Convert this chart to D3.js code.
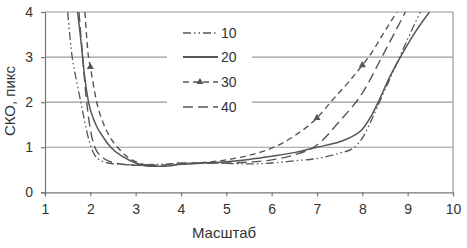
<!DOCTYPE html>
<html><head><meta charset="utf-8">
<script src="https://cdn.jsdelivr.net/npm/d3@7"></script>
<style>body{margin:0;background:#fff}svg{display:block}text{font-family:"Liberation Sans",Arial,sans-serif}</style>
</head><body><svg id="c" width="467" height="248"></svg>
<script>
const xTicks=[1,2,3,4,5,6,7,8,9,10];
const yTicks=[0,1,2,3,4];
const seriesNames=["10","20","30","40"];
const x10=[1.5,1.6,1.7,1.8,1.9,2.0,2.1,2.2,2.4,2.7,3,3.5,4,4.5,5,5.5,6,6.5,7,7.5,7.8,8.0,8.2,8.4,8.6,8.8,9.0,9.28];
const y10=[4.0,3.0,2.45,1.95,1.45,1.05,0.82,0.72,0.65,0.62,0.61,0.62,0.64,0.65,0.64,0.63,0.65,0.7,0.75,0.87,0.98,1.2,1.6,2.05,2.5,2.95,3.4,4.0];
const x20=[1.72,1.8,1.87,1.96,2.1,2.3,2.45,2.7,3.0,3.3,3.6,4,4.5,5,5.5,6,6.5,7,7.5,7.8,8.0,8.2,8.35,8.6,8.84,9.1,9.48];
const y20=[4.0,3.3,2.6,2.0,1.55,1.2,1.0,0.8,0.65,0.58,0.58,0.62,0.65,0.68,0.73,0.8,0.88,1.0,1.12,1.25,1.4,1.7,2.0,2.55,3.0,3.45,4.0];
const x30=[1.88,1.96,2.0,2.14,2.3,2.45,2.6,2.8,3.0,3.3,3.6,4,4.5,5,5.5,6,6.5,7,7.3,7.7,8,8.14,8.45,8.76];
const y30=[4.0,3.0,2.78,2.0,1.5,1.2,1.0,0.8,0.68,0.6,0.58,0.62,0.66,0.72,0.82,0.98,1.25,1.65,2.0,2.45,2.82,3.0,3.5,4.0];
const x40=[1.75,1.83,1.92,2.0,2.1,2.3,2.6,3.0,3.5,4,4.5,5,5.5,6,6.5,7,7.5,8,8.43,8.95];
const y40=[4.0,3.0,2.0,1.4,1.0,0.75,0.64,0.6,0.6,0.65,0.65,0.65,0.67,0.72,0.83,1.05,1.58,2.2,3.0,4.0];
const markerX30=[2,7,8];

const svg=d3.select("#c");
const L=45,R=453,T=12,B=192.3;
const x=d3.scaleLinear().domain([1,10]).range([L,R]);
const y=d3.scaleLinear().domain([0,4]).range([B,T]);
const col="#555", grid="#9a9a9a";

svg.append("g").selectAll("line").data(yTicks.filter(d=>d>0)).join("line")
 .attr("x1",L).attr("x2",R).attr("y1",d=>y(d)).attr("y2",d=>y(d))
 .attr("stroke",grid).attr("stroke-width",1.2);
svg.append("line").attr("x1",R).attr("x2",R).attr("y1",T).attr("y2",B).attr("stroke",grid).attr("stroke-width",1.2);

const ax=svg.append("g").attr("transform",`translate(0,${B})`).call(d3.axisBottom(x).tickValues(xTicks).tickSize(4).tickPadding(8).tickFormat(d3.format("d")));
const ay=svg.append("g").attr("transform",`translate(${L},0)`).call(d3.axisLeft(y).tickValues(yTicks).tickSize(4).tickPadding(8).tickFormat(d3.format("d")));
[ax,ay].forEach(a=>{a.selectAll("path,line").attr("stroke","#777").attr("stroke-width",1.2);a.selectAll("text").attr("font-size",14).attr("fill","#333");});

svg.append("clipPath").attr("id","cp").append("rect").attr("x",L).attr("y",T).attr("width",R-L).attr("height",B-T);
const line=d3.line().x(d=>x(d[0])).y(d=>y(d[1])).curve(d3.curveMonotoneX);
const data=[
 {n:"10",pts:d3.zip(x10,y10),dash:"8,3,1.5,3,1.5,3",w:1.3},
 {n:"20",pts:d3.zip(x20,y20),dash:null,w:1.5},
 {n:"30",pts:d3.zip(x30,y30),dash:"6,4",w:1.4},
 {n:"40",pts:d3.zip(x40,y40),dash:"10,5",w:1.4}
];
const g=svg.append("g").attr("clip-path","url(#cp)");
data.forEach(s=>{
 g.append("path").attr("d",line(s.pts)).attr("fill","none").attr("stroke",col).attr("stroke-width",s.w).attr("stroke-dasharray",s.dash);
});
const tri=d3.symbol().type(d3.symbolTriangle).size(22);
g.selectAll(".m").data(markerX30.map(mx=>{const i=x30.indexOf(mx);return [mx,y30[i]];})).join("path")
 .attr("d",tri).attr("transform",d=>`translate(${x(d[0])},${y(d[1])})`).attr("fill",col);

// legend
svg.append("rect").attr("x",167).attr("y",19).attr("width",85).attr("height",100).attr("fill","#fff");
const lg=svg.append("g");
const rows=[33,57,82,107];
data.forEach((s,i)=>{
 lg.append("line").attr("x1",183).attr("x2",218).attr("y1",rows[i]).attr("y2",rows[i])
  .attr("stroke",col).attr("stroke-width",s.w+0.3).attr("stroke-dasharray",s.dash);
 if(s.n==="30") lg.append("path").attr("d",tri).attr("transform",`translate(200,${rows[i]})`).attr("fill",col);
 lg.append("text").attr("x",221).attr("y",rows[i]).attr("dy","0.35em").attr("font-size",14).attr("fill","#333").text(seriesNames[i]);
});

svg.append("text").attr("x",224).attr("y",238).attr("text-anchor","middle").attr("font-size",15).attr("fill","#333").text("Масштаб");
svg.append("text").attr("transform","translate(15,101) rotate(-90)").attr("text-anchor","middle").attr("font-size",15).attr("fill","#333").text("СКО, пикс");
</script></body></html>
